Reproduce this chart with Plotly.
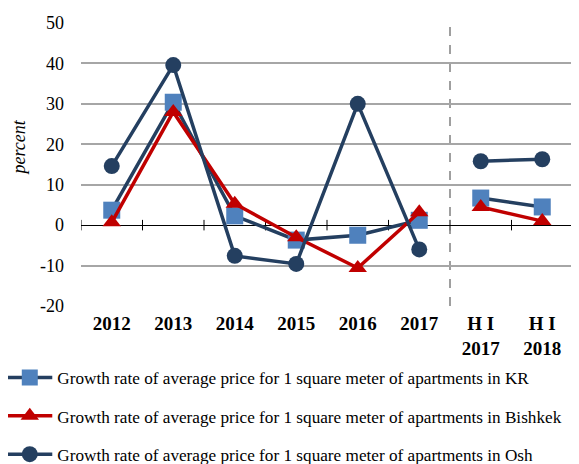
import plotly.graph_objects as go

categories = ["2012", "2013", "2014", "2015", "2016", "2017", "H I<br>2017", "H I<br>2018"]
kr = [3.7, 30.4, 2.3, -3.7, -2.5, 1.2, 6.7, 4.5]
bishkek = [0.7, 28.0, 5.3, -3.0, -10.6, 3.2, 4.5, 1.0]
osh = [14.6, 39.6, -7.6, -9.6, 30.0, -6.0, 15.8, 16.3]
y_ticks = [-20, -10, 0, 10, 20, 30, 40, 50]

names = [
    "Growth rate of average price for 1 square meter of apartments in KR",
    "Growth rate of average price for 1 square meter of apartments in Bishkek",
    "Growth rate of average price for 1 square meter of apartments in Osh",
]

FONT = "Liberation Serif"
NAVY = "#243F60"
series = [
    (kr, names[0], NAVY, dict(symbol="square", size=17, color="#4F81BD")),
    (bishkek, names[1], "#C00000", dict(symbol="triangle-up", size=16, color="#C00000")),
    (osh, names[2], NAVY, dict(symbol="circle", size=16, color=NAVY)),
]

xs = list(range(len(categories)))
split = 6
fig = go.Figure()
for vals, name, lc, mk in series:
    fig.add_trace(go.Scatter(x=xs[:split], y=vals[:split], mode="lines+markers", name=name,
                             legendgroup=name, line=dict(color=lc, width=3.5), marker=mk))
    fig.add_trace(go.Scatter(x=xs[split:], y=vals[split:], mode="lines+markers", name=name,
                             legendgroup=name, showlegend=False,
                             line=dict(color=lc, width=3.5), marker=mk))

# zero axis tick marks at category boundaries
for i in range(len(categories) + 1):
    fig.add_shape(type="line", xref="x", yref="y", x0=i - 0.5, x1=i - 0.5, y0=-1.3, y1=1.3,
                  line=dict(color="black", width=1), layer="below")
# separator between years and half-years
fig.add_shape(type="line", xref="x", yref="y", x0=split - 0.5, x1=split - 0.5, y0=-20, y1=50,
              line=dict(color="#808080", width=1.5, dash="dash"), layer="below")

fig.add_annotation(text="<i>percent</i>", xref="paper", yref="paper", x=-0.128, y=0.56,
                   xanchor="center", yanchor="middle", textangle=-90, showarrow=False,
                   font=dict(size=18, family=FONT, color="black"))

# page body has an 8px margin, so the figure is 8px smaller and margins shifted
fig.update_layout(
    width=571, height=456,
    margin=dict(l=73, r=6, t=15, b=158, autoexpand=False),
    paper_bgcolor="white", plot_bgcolor="white",
    font=dict(family=FONT, color="black", size=17),
    legend=dict(x=-0.16, y=-0.19, xanchor="left", yanchor="top", orientation="v",
                tracegroupgap=13, itemwidth=45,
                font=dict(size=17.2, family=FONT, color="black"),
                bgcolor="rgba(0,0,0,0)"),
    showlegend=True,
)
fig.update_xaxes(range=[-0.5, len(categories) - 0.5], tickmode="array", tickvals=xs,
                 ticktext=["<b>%s</b>" % c for c in categories], showgrid=False,
                 zeroline=False, showline=False, ticks="", ticklabelstandoff=4,
                 tickfont=dict(size=19, family=FONT, color="black"))
fig.update_yaxes(range=[-20, 50], tickmode="array", tickvals=y_ticks,
                 ticktext=[str(v) for v in y_ticks],
                 showgrid=True, gridcolor="#A6A6A6", gridwidth=1.5,
                 zeroline=True, zerolinecolor="black", zerolinewidth=1.2,
                 showline=False, ticks="", ticklabelstandoff=16,
                 tickfont=dict(size=18, family=FONT, color="black"))

fig.write_html("out.html")
